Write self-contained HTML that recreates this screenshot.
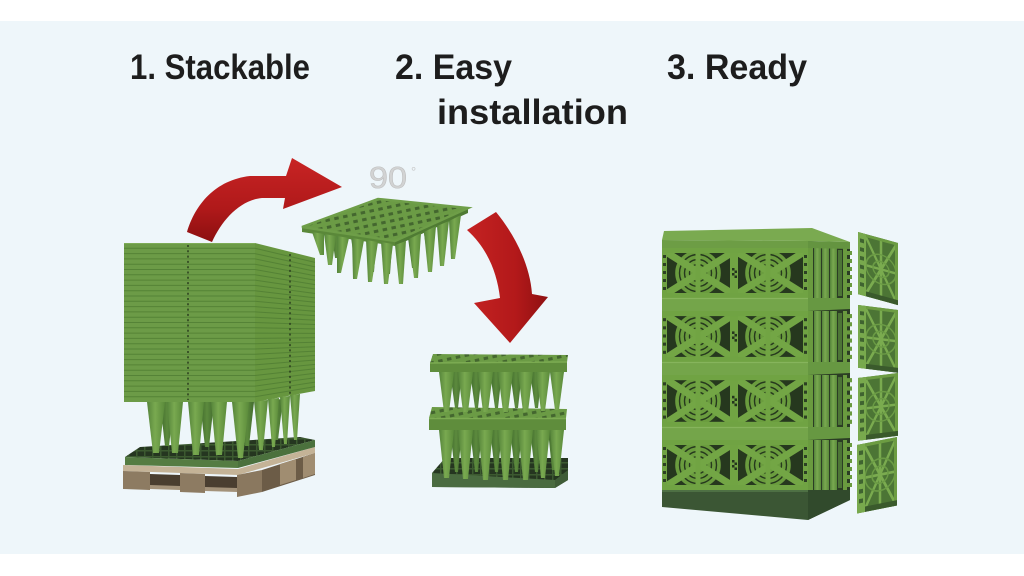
<!DOCTYPE html>
<html><head><meta charset="utf-8"><style>
html,body{margin:0;padding:0;background:#fff;}
svg{display:block}
</style></head><body>
<svg width="1024" height="576" viewBox="0 0 1024 576" xmlns="http://www.w3.org/2000/svg">
<defs>
<linearGradient id="red1" x1="0" y1="0" x2="0" y2="1">
 <stop offset="0" stop-color="#c82424"/><stop offset="0.6" stop-color="#b0191a"/><stop offset="1" stop-color="#8c0f10"/>
</linearGradient>
<linearGradient id="red2" x1="0" y1="0" x2="1" y2="0">
 <stop offset="0" stop-color="#c42222"/><stop offset="0.6" stop-color="#b3191a"/><stop offset="1" stop-color="#8e1011"/>
</linearGradient>
<linearGradient id="cone" x1="0" y1="0" x2="1" y2="0">
 <stop offset="0" stop-color="#55843a"/><stop offset="0.45" stop-color="#79a950"/><stop offset="1" stop-color="#5a8a3a"/>
</linearGradient>
<linearGradient id="coneD" x1="0" y1="0" x2="1" y2="0">
 <stop offset="0" stop-color="#3f6a2c"/><stop offset="0.5" stop-color="#5c8a3d"/><stop offset="1" stop-color="#426c2e"/>
</linearGradient>
<pattern id="latt" width="9" height="7" patternUnits="userSpaceOnUse" patternTransform="rotate(-12)">
 <rect width="9" height="7" fill="#6b9b45"/>
 <rect x="2.5" y="2" width="4.5" height="3" fill="#44672f"/>
</pattern>
<pattern id="latt2" width="8" height="6" patternUnits="userSpaceOnUse">
 <rect width="8" height="6" fill="#253620"/>
 <rect x="0" y="0" width="8" height="1.5" fill="#3c5a30"/>
 <rect x="0" y="0" width="1.5" height="6" fill="#3c5a30"/>
</pattern>
<g id="panel">
 <rect x="0" y="0" width="146" height="50" fill="#26381e"/>
 <g fill="none" stroke="#6a9c3e" stroke-width="3.6">
  <circle cx="36" cy="25" r="6"/><circle cx="36" cy="25" r="11"/><circle cx="36" cy="25" r="16"/><circle cx="36" cy="25" r="21"/>
  <circle cx="106" cy="25" r="6"/><circle cx="106" cy="25" r="11"/><circle cx="106" cy="25" r="16"/><circle cx="106" cy="25" r="21"/>
 </g>
 <g stroke="#73a645" stroke-width="7">
  <line x1="4" y1="4" x2="71" y2="46"/><line x1="4" y1="46" x2="71" y2="4"/>
  <line x1="75" y1="4" x2="142" y2="46"/><line x1="75" y1="46" x2="142" y2="4"/>
 </g>
 <g fill="#71a443">
  <rect x="33.5" y="0" width="5" height="50"/>
  <rect x="68" y="0" width="8" height="50"/>
  <rect x="103.5" y="0" width="5" height="50"/>
 </g>
 <rect x="70" y="20" width="2.5" height="2.5" fill="#24341d"/>
 <rect x="72.5" y="22.5" width="2.5" height="2.5" fill="#24341d"/>
 <rect x="70" y="25" width="2.5" height="2.5" fill="#24341d"/>
 <rect x="72.5" y="27.5" width="2.5" height="2.5" fill="#24341d"/>
 <rect x="2.5" y="2.5" width="141" height="45" fill="none" stroke="#70a343" stroke-width="5"/>
 <g fill="#2c3f24">
  <rect x="1" y="7" width="3" height="3"/><rect x="1" y="15" width="3" height="3"/><rect x="1" y="23" width="3" height="3"/><rect x="1" y="31" width="3" height="3"/><rect x="1" y="39" width="3" height="3"/>
  <rect x="142" y="7" width="3" height="3"/><rect x="142" y="15" width="3" height="3"/><rect x="142" y="23" width="3" height="3"/><rect x="142" y="31" width="3" height="3"/><rect x="142" y="39" width="3" height="3"/>
 </g>
</g>
<g id="side">
 <rect x="0" y="0" width="42" height="50" fill="#2b3d24"/>
 <rect x="0" y="0" width="5" height="50" fill="#6a9b3f"/>
 <rect x="6" y="0" width="7" height="50" fill="url(#cone)"/>
 <rect x="14" y="0" width="7" height="50" fill="url(#cone)"/>
 <rect x="22" y="0" width="7" height="50" fill="url(#cone)"/>
 <rect x="30" y="2" width="4" height="46" fill="#4d7536"/>
 <rect x="35" y="0" width="4" height="50" fill="#6a9b3f"/>
 <g fill="#6a9b3f">
  <rect x="39" y="3" width="5" height="4"/><rect x="39" y="11" width="5" height="4"/><rect x="39" y="19" width="5" height="4"/><rect x="39" y="27" width="5" height="4"/><rect x="39" y="35" width="5" height="4"/><rect x="39" y="43" width="5" height="4"/>
 </g>
</g>
<g id="sp">
 <rect x="0" y="0" width="40" height="64" fill="#4c7535"/>
 <g stroke="#7aab4f" stroke-width="2.5">
  <line x1="8" y1="3" x2="38" y2="61"/><line x1="8" y1="61" x2="38" y2="3"/>
  <line x1="23" y1="0" x2="23" y2="64"/>
  <line x1="8" y1="32" x2="38" y2="32"/>
 </g>
 <g fill="none" stroke="#6b9b45" stroke-width="1.5">
  <circle cx="23" cy="32" r="8"/><circle cx="23" cy="32" r="15"/>
 </g>
 <rect x="1.5" y="1.5" width="37" height="61" fill="none" stroke="#6c9c42" stroke-width="3"/>
 <rect x="0" y="0" width="8" height="64" fill="#78a94d"/>
 <g fill="#3f6330">
  <rect x="2" y="6" width="4" height="4"/><rect x="2" y="15" width="4" height="4"/><rect x="2" y="24" width="4" height="4"/><rect x="2" y="33" width="4" height="4"/><rect x="2" y="42" width="4" height="4"/><rect x="2" y="51" width="4" height="4"/>
 </g>
 <rect x="8" y="59" width="32" height="5" fill="#3a5a2c"/>
</g>
</defs>

<rect width="1024" height="576" fill="#ffffff"/>
<rect x="0" y="21" width="1024" height="533" fill="#eef6fa"/>

<!-- Titles -->
<g font-family="'Liberation Sans', Arial, sans-serif" font-weight="bold" font-size="35" fill="#1d1d1d">
<text x="130" y="79" textLength="180" lengthAdjust="spacingAndGlyphs">1. Stackable</text>
<text x="395" y="79" textLength="117" lengthAdjust="spacingAndGlyphs">2. Easy</text>
<text x="437" y="124" textLength="191" lengthAdjust="spacingAndGlyphs">installation</text>
<text x="667" y="79" textLength="140" lengthAdjust="spacingAndGlyphs">3. Ready</text>
</g>

<!-- ============ LEFT: stacked pallet ============ -->
<polygon points="262,470 315,453 315,475 262,492" fill="#6c5c47"/>
<polygon points="280,464 296,459 296,480 280,485" fill="#a08d71"/>
<polygon points="303,457 315,453 315,474 303,478" fill="#a08d71"/>
<polygon points="123,465 238,469 315,447 315,453 238,475 123,471" fill="#c4b397"/>
<polygon points="150,474 180,475 180,487 150,486" fill="#4a3e30"/>
<polygon points="205,476 237,477 237,489 205,488" fill="#4a3e30"/>
<polygon points="150,485 180,486 180,490 150,489" fill="#a3927a"/>
<polygon points="205,487 237,488 237,492 205,491" fill="#a3927a"/>
<polygon points="123,471 150,472 150,490 123,489" fill="#8d7b62"/>
<polygon points="180,473 205,474 205,493 180,492" fill="#8d7b62"/>
<polygon points="237,475 262,470 262,492 237,497" fill="#8a785f"/>
<polygon points="125,457 140,447 300,437 315,440 238,461" fill="url(#latt2)"/>
<polygon points="125,457 238,461 238,468 125,465" fill="#557c42"/>
<polygon points="238,461 315,440 315,447 238,468" fill="#4b713d"/>
<g fill="url(#coneD)">
<polygon points="160,402 174,402 169,446 165,446"/>
<polygon points="200,402 214,402 209,447 205,447"/>
<polygon points="240,402 254,402 249,446 245,446"/>
<polygon points="270,400 283,399 278,440 275,440"/>
</g>
<g fill="url(#cone)">
<polygon points="147,402 165,402 159,453 153,453"/>
<polygon points="167,402 183,402 178,453 172,453"/>
<polygon points="188,402 204,402 199,455 193,455"/>
<polygon points="211,402 227,402 222,455 216,455"/>
<polygon points="232,402 249,402 243,458 238,458"/>
<polygon points="254,401 268,400 263,450 259,450"/>
<polygon points="268,399 279,398 275,447 272,447"/>
<polygon points="280,397 290,396 287,444 284,444"/>
<polygon points="290,395 300,394 297,440 294,440"/>
</g>
<polygon points="255,243 315,258 315,391 255,402" fill="#67963f"/>
<polygon points="124,243 255,243 255,402 124,402" fill="#6c9b47"/>
<path fill="none" stroke="#507d33" stroke-width="1" stroke-opacity="0.8" d="
M124 248.3L255 248.3L315 262.4M124 253.6L255 253.6L315 266.9M124 258.9L255 258.9L315 271.3M124 264.2L255 264.2L315 275.7
M124 269.5L255 269.5L315 280.2M124 274.8L255 274.8L315 284.6M124 280.1L255 280.1L315 289M124 285.4L255 285.4L315 293.5
M124 290.7L255 290.7L315 297.9M124 296L255 296L315 302.3M124 301.3L255 301.3L315 306.8M124 306.6L255 306.6L315 311.2
M124 311.9L255 311.9L315 315.6M124 317.2L255 317.2L315 320.1M124 322.5L255 322.5L315 324.5M124 327.8L255 327.8L315 328.9
M124 333.1L255 333.1L315 333.4M124 338.4L255 338.4L315 337.8M124 343.7L255 343.7L315 342.2M124 349L255 349L315 346.7
M124 354.3L255 354.3L315 351.1M124 359.6L255 359.6L315 355.5M124 364.9L255 364.9L315 360M124 370.2L255 370.2L315 364.4
M124 375.5L255 375.5L315 368.8M124 380.8L255 380.8L315 373.3M124 386.1L255 386.1L315 377.7M124 391.4L255 391.4L315 382.1
M124 396.7L255 396.7L315 386.6"/>
<line x1="188" y1="245" x2="188" y2="400" stroke="#2a3d1e" stroke-width="1.5" stroke-dasharray="2,3.3"/>
<line x1="290" y1="254" x2="290" y2="394" stroke="#2a3d1e" stroke-width="1.5" stroke-dasharray="2,3.3"/>
<line x1="124" y1="243.5" x2="255" y2="243.5" stroke="#7eac57" stroke-width="1"/>

<!-- arrow 1 -->
<path d="M187,232 C195,205 215,180 250,176 L286,176 L292,158 L342,187 L283,209 L285,198 L262,198 C240,200 222,220 212,242 Z" fill="url(#red1)"/>

<!-- 90 degrees -->
<text x="369" y="188" font-family="'Liberation Sans', Arial, sans-serif" font-size="31" fill="#d2d3d3" stroke="#bfc0c0" stroke-width="0.6" textLength="38" lengthAdjust="spacingAndGlyphs">90</text>
<text x="411" y="176" font-family="'Liberation Sans', Arial, sans-serif" font-size="13" fill="#c8c9c9">°</text>

<!-- floating plate -->
<g fill="url(#coneD)">
<polygon points="331,228 342,229 338,258 335,258"/>
<polygon points="350,230 361,231 358,266 355,266"/>
<polygon points="366,232 377,233 374,272 371,272"/>
<polygon points="382,233 393,234 390,274 387,274"/>
<polygon points="407,230 418,228 415,268 412,268"/>
<polygon points="423,226 434,222 431,262 428,262"/>
<polygon points="437,219 448,215 445,255 442,255"/>
</g>
<polygon points="302,227 378,199 468,208 395,241" fill="url(#latt)"/>
<polygon points="302,227 395,241 395,246 302,232" fill="#5a8839"/>
<polygon points="395,241 468,208 468,213 395,246" fill="#4f7b33"/>
<polygon points="302,227 378,199 468,208 395,241" fill="none" stroke="#6e9e48" stroke-width="2.5"/>
<g fill="url(#cone)">
<polygon points="312,232 324,234 324,255 320,255"/>
<polygon points="324,234 336,236 332,265 328,265"/>
<polygon points="337,236 349,238 341,273 337,273"/>
<polygon points="352,238 364,240 357,279 353,279"/>
<polygon points="366,240 378,242 372,282 368,282"/>
<polygon points="381,242 393,244 388,284 384,284"/>
<polygon points="395,245 406,241 403,284 399,284"/>
<polygon points="409,239 421,233 418,278 414,278"/>
<polygon points="424,232 436,226 432,272 428,272"/>
<polygon points="437,226 449,221 444,266 440,266"/>
<polygon points="449,221 461,215 455,259 451,259"/>
</g>

<!-- arrow 2 -->
<path d="M467,230 L496,212 C515,235 530,265 532,294 L548,297 L510,343 L474,303 L500,298 C497,272 487,248 467,230 Z" fill="url(#red2)"/>

<!-- ============ MIDDLE: installed stack ============ -->
<polygon points="445,458 568,458 568,480 555,488 432,487 432,473" fill="url(#latt2)"/>
<polygon points="432,473 555,480 555,488 432,487" fill="#4a6b40"/>
<polygon points="555,480 568,470 568,480 555,488" fill="#3f5c37"/>
<g fill="url(#coneD)">
<polygon points="450,430 462,430 458,472 455,472"/>
<polygon points="470,430 482,430 478,472 475,472"/>
<polygon points="490,430 502,430 498,472 495,472"/>
<polygon points="510,430 522,430 518,472 515,472"/>
<polygon points="530,430 542,430 538,472 535,472"/>
<polygon points="548,430 558,430 555,470 552,470"/>
</g>
<g fill="url(#cone)">
<polygon points="439,430 454,430 449,478 444,478"/>
<polygon points="458,430 473,430 468,479 463,479"/>
<polygon points="478,430 493,430 488,480 483,480"/>
<polygon points="498,430 513,430 508,480 503,480"/>
<polygon points="518,430 533,430 528,480 523,480"/>
<polygon points="536,430 550,430 545,478 541,478"/>
<polygon points="550,430 564,430 559,476 555,476"/>
</g>
<polygon points="432,407 567,409 566,418 429,418" fill="url(#latt)"/>
<polygon points="429,418 566,418 566,430 429,430" fill="#5f8d3c"/>
<line x1="429" y1="418.5" x2="566" y2="418.5" stroke="#7cab52" stroke-width="1.5"/>
<g fill="url(#coneD)">
<polygon points="450,372 462,372 458,408 455,408"/>
<polygon points="470,372 482,372 478,408 475,408"/>
<polygon points="490,372 502,372 498,408 495,408"/>
<polygon points="510,372 522,372 518,408 515,408"/>
<polygon points="530,372 542,372 538,408 535,408"/>
</g>
<g fill="url(#cone)">
<polygon points="439,372 454,372 449,412 444,412"/>
<polygon points="458,372 473,372 468,412 463,412"/>
<polygon points="478,372 493,372 488,412 483,412"/>
<polygon points="498,372 513,372 508,412 503,412"/>
<polygon points="518,372 533,372 528,412 523,412"/>
<polygon points="536,372 550,372 545,411 541,411"/>
<polygon points="550,372 564,372 559,410 555,410"/>
</g>
<polygon points="433,354 568,355 567,362 430,363" fill="url(#latt)"/>
<polygon points="430,363 567,362 567,372 430,372" fill="#5f8d3c"/>
<line x1="430" y1="363" x2="567" y2="362" stroke="#7cab52" stroke-width="1.5"/>

<!-- ============ RIGHT: ready block ============ -->
<polygon points="808,241 850,243 850,500 808,520" fill="#2b3d24"/>
<use href="#side" transform="translate(808,248)"/>
<use href="#side" transform="translate(808,311) scale(1,1.02)"/>
<use href="#side" transform="translate(808,375) scale(1,1.04)"/>
<use href="#side" transform="translate(808,440)"/>
<use href="#panel" transform="translate(662,248)"/>
<use href="#panel" transform="translate(662,311) scale(1,1.02)"/>
<use href="#panel" transform="translate(662,375) scale(1,1.04)"/>
<use href="#panel" transform="translate(662,440)"/>
<polygon points="664,231 812,228 850,242 808,241 662,240" fill="#7aaa50"/>
<polygon points="662,240 808,241 808,248 662,248" fill="#6d9d45"/>
<polygon points="808,241 850,242 850,249 808,248" fill="#649440"/>
<polygon points="662,298 808,298 808,311 662,311" fill="#74a54a"/>
<polygon points="808,298 850,298 850,309 808,311" fill="#679842"/>
<polygon points="662,362 808,362 808,375 662,375" fill="#74a54a"/>
<polygon points="808,362 850,362 850,373 808,375" fill="#679842"/>
<polygon points="662,427 808,427 808,440 662,440" fill="#74a54a"/>
<polygon points="808,427 850,427 850,438 808,440" fill="#679842"/>
<g stroke="#86b45c" stroke-width="1.2">
<line x1="662" y1="298.5" x2="808" y2="298.5"/>
<line x1="662" y1="362.5" x2="808" y2="362.5"/>
<line x1="662" y1="427.5" x2="808" y2="427.5"/>
</g>
<polygon points="662,490 808,490 808,520 662,507" fill="#3b5634"/>
<polygon points="808,490 850,490 850,500 808,520" fill="#314a2c"/>
<line x1="662" y1="491" x2="808" y2="491" stroke="#4e7044" stroke-width="2"/>

<use href="#sp" transform="matrix(1,0.275,0,0.97,858,232)"/>
<use href="#sp" transform="matrix(1,0.125,0,0.98,858,305)"/>
<use href="#sp" transform="matrix(1,-0.125,0,0.98,858,378)"/>
<use href="#sp" transform="matrix(1,-0.2,0,1.07,857,445)"/>
</svg>
</body></html>
